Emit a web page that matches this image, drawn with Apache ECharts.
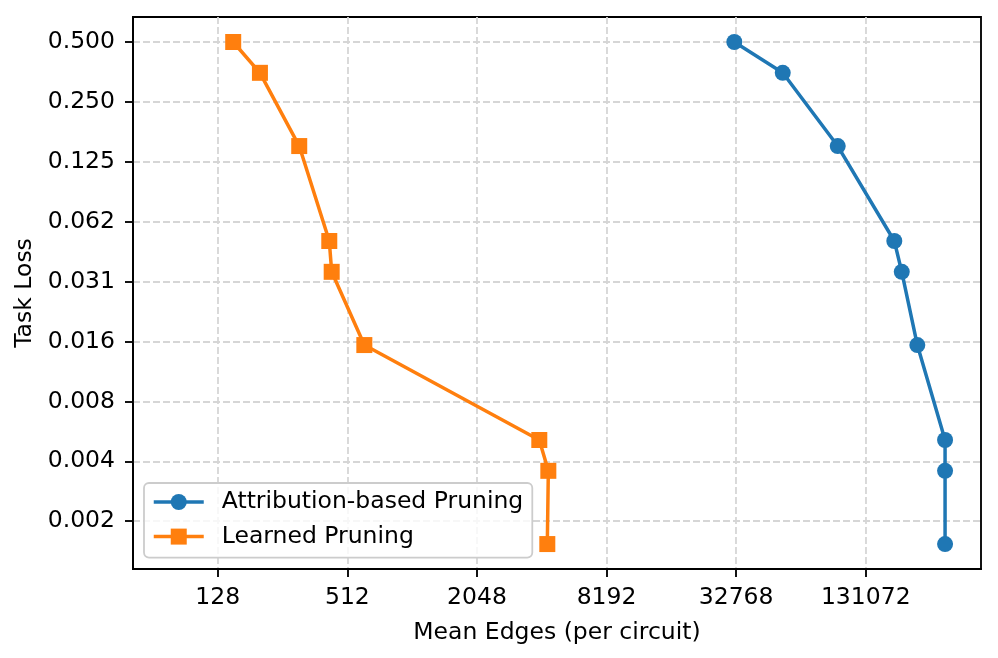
<!DOCTYPE html>
<html><head><meta charset="utf-8">
<script src="https://cdn.jsdelivr.net/npm/echarts@6/dist/echarts.min.js"></script>
<style>html,body{margin:0;padding:0;background:#fff}#c{width:998px;height:658px}</style>
</head><body><div id="c"></div>
<script>
const seriesNames = ['Attribution-based Pruning', 'Learned Pruning'];
const attributionEdges = [32140, 53940, 97130, 177900, 192700, 227600, 306200, 306200, 306200];
const learnedEdges = [151, 201, 306, 422, 433, 614, 3990, 4395, 4347];
const taskLoss = [0.5, 0.35, 0.15, 0.05, 0.035, 0.015, 0.005, 0.0035, 0.0015];
const xTickValues = [128, 512, 2048, 8192, 32768, 131072];
const xTickLabels = ['128', '512', '2048', '8192', '32768', '131072'];
const yTickValues = [0.001953125, 0.00390625, 0.0078125, 0.015625, 0.03125, 0.0625, 0.125, 0.25, 0.5];
const yTickLabels = ['0.002', '0.004', '0.008', '0.016', '0.031', '0.062', '0.125', '0.250', '0.500'];

function lookup(vals, labels, v) {
  const i = vals.findIndex(t => Math.abs(t - v) / t < 1e-6);
  return i >= 0 ? labels[i] : '';
}
const FONT = 'DejaVu Sans';
const FS = 23.5;
const chart = echarts.init(document.getElementById('c'), null, {renderer: 'canvas'});
const gridStyle = {show: true, lineStyle: {color: '#d6d6d6', width: 1.8, type: [7, 3]}};
chart.setOption({
  animation: false,
  backgroundColor: '#ffffff',
  textStyle: {fontFamily: FONT},
  grid: {left: 133, right: 17, top: 17, bottom: 89, show: true, borderColor: '#000', borderWidth: 1.85, containLabel: false},
  legend: {
    orient: 'vertical', left: 144, top: 483,
    padding: [7, 9, 9, 8], itemGap: 10.6, itemWidth: 50, itemHeight: 20,
    backgroundColor: 'rgba(255,255,255,0.8)', borderColor: '#cccccc', borderWidth: 1.8, borderRadius: 5,
    lineStyle: {width: 3.5},
    textStyle: {fontFamily: FONT, fontSize: FS, color: '#000', padding: [0, 0, 0, 13]},
    data: seriesNames
  },
  xAxis: {
    type: 'log', logBase: 2, min: 51.7, max: 449700,
    name: 'Mean Edges (per circuit)', nameLocation: 'middle', nameGap: 52,
    nameTextStyle: {fontFamily: FONT, fontSize: FS, color: '#000'},
    axisLine: {show: true, onZero: false, lineStyle: {color: '#000', width: 1.85}},
    axisTick: {show: true, length: 8, lineStyle: {color: '#000', width: 1.85}, customValues: xTickValues},
    axisLabel: {fontFamily: FONT, fontSize: FS, color: '#000', margin: 17, customValues: xTickValues,
      formatter: v => lookup(xTickValues, xTickLabels, v)},
    splitLine: gridStyle
  },
  yAxis: {
    type: 'log', logBase: 2, min: 0.001124, max: 0.6677,
    name: 'Task Loss', nameLocation: 'middle', nameGap: 89,
    nameTextStyle: {fontFamily: FONT, fontSize: FS, color: '#000'},
    axisLine: {show: true, onZero: false, lineStyle: {color: '#000', width: 1.85}},
    axisTick: {show: true, length: 8, lineStyle: {color: '#000', width: 1.85}, customValues: yTickValues},
    axisLabel: {fontFamily: FONT, fontSize: FS, color: '#000', margin: 18, customValues: yTickValues,
      formatter: v => lookup(yTickValues, yTickLabels, v)},
    splitLine: gridStyle
  },
  series: [
    {
      name: seriesNames[0], type: 'line', symbol: 'circle', symbolSize: 16,
      itemStyle: {color: '#1f77b4'}, lineStyle: {color: '#1f77b4', width: 3.5},
      data: attributionEdges.map((x, i) => [x, taskLoss[i]])
    },
    {
      name: seriesNames[1], type: 'line', symbol: 'rect', symbolSize: 16,
      itemStyle: {color: '#ff7f0e'}, lineStyle: {color: '#ff7f0e', width: 3.5},
      data: learnedEdges.map((x, i) => [x, taskLoss[i]])
    }
  ]
});
</script></body></html>
